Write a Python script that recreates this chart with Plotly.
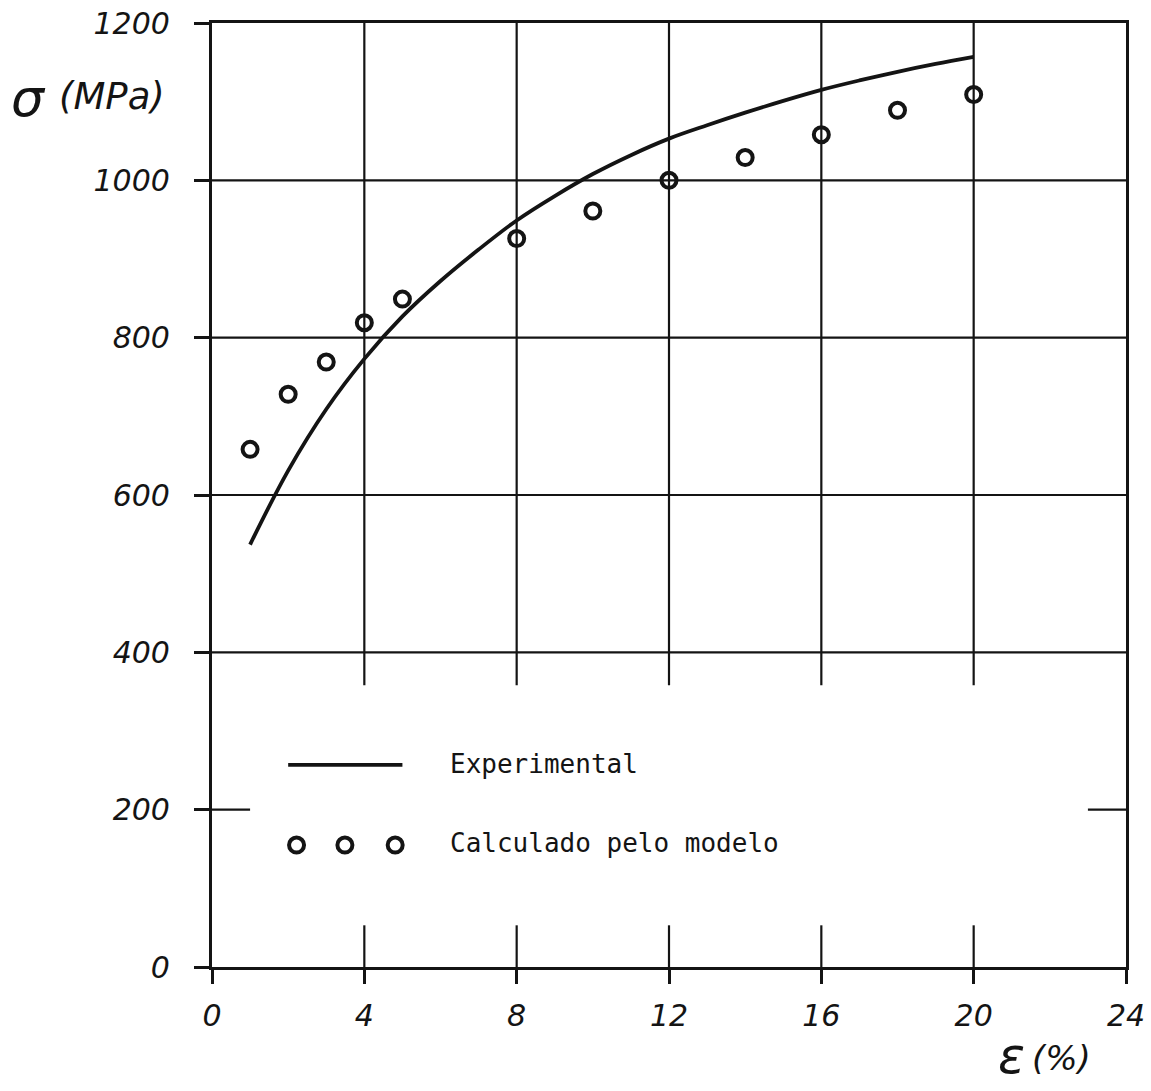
import plotly.graph_objects as go

# Experimental stress-strain curve
strain_exp = [1, 2, 3, 4, 5, 6, 7, 8, 9, 10, 11, 12, 13, 14, 15, 16, 17, 18, 19, 20]
stress_exp = [537, 631, 709, 773, 827, 872, 912, 949, 980, 1008, 1032, 1053,
              1070, 1086, 1101, 1115, 1127, 1138, 1148, 1157]

# Values computed by the model
strain_calc = [1, 2, 3, 4, 5, 8, 10, 12, 14, 16, 18, 20]
stress_calc = [658, 728, 769, 819, 849, 926, 961, 1000, 1029, 1058, 1089, 1109]

x_ticks = [0, 4, 8, 12, 16, 20, 24]
x_tick_text = ["0", "4", "8", "12", "16", "20", "24"]
y_ticks = [0, 200, 400, 600, 800, 1000, 1200]
y_tick_text = ["0", "200", "400", "600", "800", "1000", "1200"]

legend_labels = ["Experimental", "Calculado pelo modelo"]

INK = "#141414"
TICK_FONT = dict(family="DejaVu Sans", size=30, color=INK, style="italic")
LEGEND_FONT = dict(family="DejaVu Sans Mono", size=26, color=INK)

fig = go.Figure()

fig.add_trace(go.Scatter(
    x=strain_exp, y=stress_exp, mode="lines",
    line=dict(color=INK, width=3.8, shape="spline", smoothing=1.0),
    hoverinfo="skip",
))
fig.add_trace(go.Scatter(
    x=strain_calc, y=stress_calc, mode="markers",
    marker=dict(symbol="circle-open", size=15, color=INK, line=dict(width=4, color=INK)),
    hoverinfo="skip",
))

shapes = []
grid_line = dict(color=INK, width=2.2)

# vertical grid: upper block and short marks above the strain axis, gap for the key
for xv in x_ticks[1:-1]:
    shapes.append(dict(type="line", xref="x", yref="y", x0=xv, x1=xv, y0=358, y1=1200,
                       line=grid_line, layer="below"))
    shapes.append(dict(type="line", xref="x", yref="y", x0=xv, x1=xv, y0=0, y1=53,
                       line=grid_line, layer="below"))

# horizontal grid
for yv in y_ticks[1:-1]:
    if yv == 200:
        shapes.append(dict(type="line", xref="x", yref="y", x0=0, x1=1.0, y0=yv, y1=yv,
                           line=grid_line, layer="below"))
        shapes.append(dict(type="line", xref="x", yref="y", x0=23.0, x1=24, y0=yv, y1=yv,
                           line=grid_line, layer="below"))
    else:
        shapes.append(dict(type="line", xref="x", yref="y", x0=0, x1=24, y0=yv, y1=yv,
                           line=grid_line, layer="below"))

# key: line sample and three ring samples
shapes.append(dict(type="line", xref="x", yref="y", x0=2.0, x1=5.0, y0=257, y1=257,
                   line=dict(color=INK, width=3.8)))
for cx in [2.22, 3.49, 4.81]:
    shapes.append(dict(type="circle", xref="x", yref="y", xsizemode="pixel", ysizemode="pixel",
                       xanchor=cx, yanchor=155, x0=-7.5, x1=7.5, y0=-7.5, y1=7.5,
                       line=dict(color=INK, width=4)))

annotations = [
    dict(xref="x", yref="y", x=6.2, y=258, text=legend_labels[0], showarrow=False,
         xanchor="left", yanchor="middle", font=LEGEND_FONT),
    dict(xref="x", yref="y", x=6.2, y=158, text=legend_labels[1], showarrow=False,
         xanchor="left", yanchor="middle", font=LEGEND_FONT),
    # stress axis title
    dict(xref="paper", yref="paper", x=-0.222, y=0.921, text="σ", showarrow=False,
         xanchor="left", yanchor="middle",
         font=dict(family="DejaVu Sans", size=52, color=INK, style="italic")),
    dict(xref="paper", yref="paper", x=-0.170, y=0.922, text="(MPa)", showarrow=False,
         xanchor="left", yanchor="middle",
         font=dict(family="DejaVu Sans", size=37, color=INK, style="italic")),
    # strain axis title
    dict(xref="paper", yref="paper", x=0.858, y=-0.094, text="ε", showarrow=False,
         xanchor="left", yanchor="middle",
         font=dict(family="DejaVu Sans", size=50, color=INK, style="italic")),
    dict(xref="paper", yref="paper", x=0.895, y=-0.096, text="(%)", showarrow=False,
         xanchor="left", yanchor="middle",
         font=dict(family="DejaVu Sans", size=34, color=INK, style="italic")),
]

fig.update_layout(
    width=1151, height=1091,
    margin=dict(l=212, r=25, t=23, b=124, autoexpand=False),
    paper_bgcolor="white", plot_bgcolor="white",
    showlegend=False,
    shapes=shapes,
    annotations=annotations,
    xaxis=dict(
        range=[0, 24], tickvals=x_ticks, ticktext=x_tick_text,
        ticks="outside", ticklen=14, tickwidth=2.5, tickcolor=INK,
        showline=True, linewidth=3.2, linecolor=INK, mirror=True,
        showgrid=False, zeroline=False, tickfont=TICK_FONT, ticklabelstandoff=6,
        automargin=False, fixedrange=True,
    ),
    yaxis=dict(
        range=[0, 1200], tickvals=y_ticks, ticktext=y_tick_text,
        ticks="outside", ticklen=15, tickwidth=2.5, tickcolor=INK,
        showline=True, linewidth=3.2, linecolor=INK, mirror=True,
        showgrid=False, zeroline=False, tickfont=TICK_FONT, ticklabelstandoff=18,
        automargin=False, fixedrange=True,
    ),
)

fig.write_html("out.html")
